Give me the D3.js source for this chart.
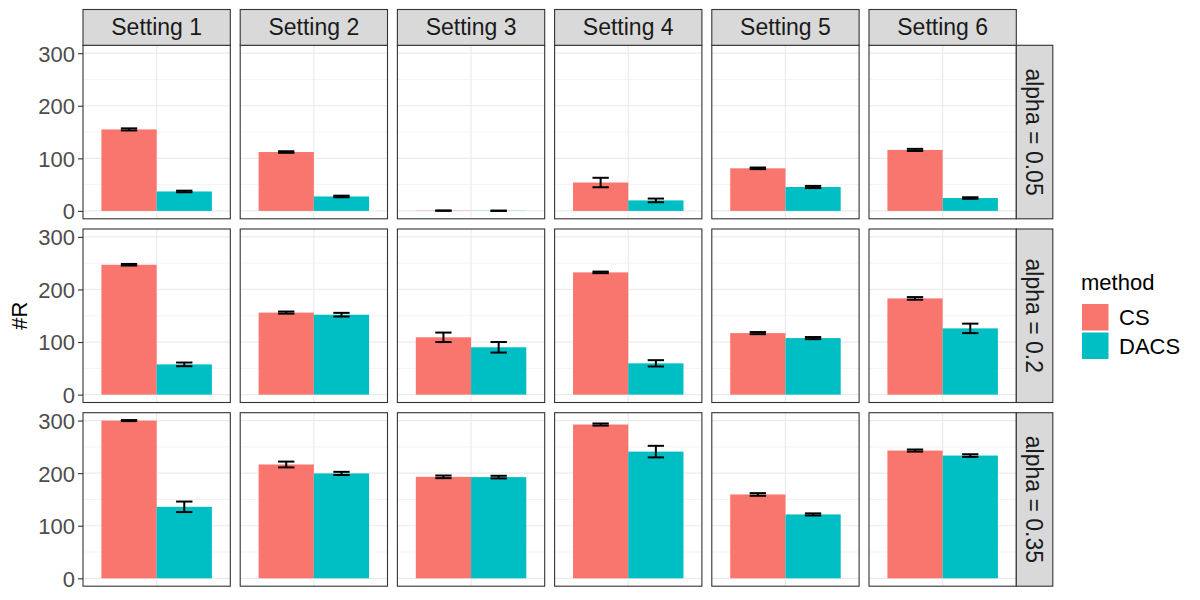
<!DOCTYPE html>
<html>
<head>
<meta charset="utf-8">
<script src="https://cdn.jsdelivr.net/npm/d3@7"></script>
<style>
  body { margin: 0; background: #fff; }
  svg { font-family: "Liberation Sans", Arial, sans-serif; }
</style>
</head>
<body>
<div id="chart"></div>
<script>
var settings = ["Setting 1", "Setting 2", "Setting 3", "Setting 4", "Setting 5", "Setting 6"];
var alphas = ["alpha = 0.05", "alpha = 0.2", "alpha = 0.35"];
var methods = ["CS", "DACS"];
var colors = ["#F8766D", "#00BFC4"];
var yTicks = [0, 100, 200, 300];
var yMinor = [50, 150, 250];

// one row per alpha, one entry per setting
var csMean = [
    [155, 112, 0.5, 54, 81, 116],
    [247, 156, 109, 232.5, 117, 183],
    [300, 216.5, 193, 292.5, 159.5, 243]
];
var csErr = [
    [2, 1.5, 0.3, 9, 1.5, 2],
    [1.5, 2, 9, 1.5, 2, 2.5],
    [1, 5.5, 2.5, 2, 2.5, 2]
];
var dacsMean = [
    [37, 27.5, 0.3, 20, 45.5, 24.5],
    [57.5, 152, 90, 59.5, 107.5, 126],
    [136, 199.5, 192.5, 241, 121.5, 233.5]
];
var dacsErr = [
    [1.5, 1.5, 0.3, 3.5, 2, 1.5],
    [3.5, 3.5, 10, 6, 2, 9],
    [10, 3, 2.5, 11, 2, 2.5]
];

var width = 1200, height = 600;
var panelLeft = 83, panelW = 147.3, colStep = 157.2;
var rowTops = [45.3, 229, 412.7], panelH = 173.5;
var stripTop = 9.5, stripH = 35.8;
var stripRW = 36.5;

var svg = d3.select("#chart").append("svg")
    .attr("width", width)
    .attr("height", height);

var xScale = d3.scaleLinear().domain([0.4, 1.6]).range([0, panelW]);
var yScale = d3.scaleLinear().domain([-15, 315]).range([panelH, 0]);
var barW = 0.45, errW = 0.133;

for (var r = 0; r < alphas.length; r++) {
    for (var c = 0; c < settings.length; c++) {
        var g = svg.append("g")
            .attr("transform", "translate(" + (panelLeft + c * colStep) + "," + rowTops[r] + ")");

        g.append("rect")
            .attr("width", panelW).attr("height", panelH)
            .attr("fill", "#fff");

        g.selectAll(".minor").data(yMinor).enter().append("line")
            .attr("x1", 0).attr("x2", panelW)
            .attr("y1", function(d){ return yScale(d); })
            .attr("y2", function(d){ return yScale(d); })
            .attr("stroke", "#ebebeb").attr("stroke-width", 0.6);
        g.selectAll(".major").data(yTicks).enter().append("line")
            .attr("x1", 0).attr("x2", panelW)
            .attr("y1", function(d){ return yScale(d); })
            .attr("y2", function(d){ return yScale(d); })
            .attr("stroke", "#ebebeb").attr("stroke-width", 1.2);
        g.append("line")
            .attr("x1", xScale(1)).attr("x2", xScale(1))
            .attr("y1", 0).attr("y2", panelH)
            .attr("stroke", "#ebebeb").attr("stroke-width", 1.2);

        var vals = [
            {m: 0, v: csMean[r][c], e: csErr[r][c], x: 1 - barW / 2},
            {m: 1, v: dacsMean[r][c], e: dacsErr[r][c], x: 1 + barW / 2}
        ];

        g.selectAll(".bar").data(vals).enter().append("rect")
            .attr("x", function(d){ return xScale(d.x - barW / 2); })
            .attr("width", xScale(barW) - xScale(0))
            .attr("y", function(d){ return yScale(d.v); })
            .attr("height", function(d){ return yScale(0) - yScale(d.v); })
            .attr("fill", function(d){ return colors[d.m]; });

        var eb = g.selectAll(".err").data(vals).enter().append("g")
            .attr("stroke", "#000").attr("stroke-width", 2).attr("fill", "none");
        eb.append("line")
            .attr("x1", function(d){ return xScale(d.x); })
            .attr("x2", function(d){ return xScale(d.x); })
            .attr("y1", function(d){ return yScale(d.v - d.e); })
            .attr("y2", function(d){ return yScale(d.v + d.e); });
        eb.append("line")
            .attr("x1", function(d){ return xScale(d.x - errW / 2); })
            .attr("x2", function(d){ return xScale(d.x + errW / 2); })
            .attr("y1", function(d){ return yScale(d.v - d.e); })
            .attr("y2", function(d){ return yScale(d.v - d.e); });
        eb.append("line")
            .attr("x1", function(d){ return xScale(d.x - errW / 2); })
            .attr("x2", function(d){ return xScale(d.x + errW / 2); })
            .attr("y1", function(d){ return yScale(d.v + d.e); })
            .attr("y2", function(d){ return yScale(d.v + d.e); });

        g.append("rect")
            .attr("width", panelW).attr("height", panelH)
            .attr("fill", "none").attr("stroke", "#333").attr("stroke-width", 1.1);

        if (c == 0) {
            var yAxis = d3.axisLeft(yScale).tickValues(yTicks).tickSize(5).tickPadding(3);
            var ag = g.append("g").call(yAxis);
            ag.select(".domain").remove();
            ag.selectAll("line").attr("stroke", "#333").attr("stroke-width", 1.1);
            ag.selectAll("text")
                .attr("fill", "#4d4d4d")
                .style("font-size", "22px")
                .attr("dy", "0.36em");
        }
    }

    // right strip
    var sx = panelLeft + (settings.length - 1) * colStep + panelW;
    var sg = svg.append("g").attr("transform", "translate(" + sx + "," + rowTops[r] + ")");
    sg.append("rect")
        .attr("width", stripRW).attr("height", panelH)
        .attr("fill", "#d9d9d9").attr("stroke", "#333").attr("stroke-width", 1.1);
    sg.append("text")
        .attr("transform", "translate(" + (stripRW / 2) + "," + (panelH / 2) + ") rotate(90)")
        .attr("text-anchor", "middle")
        .attr("dy", "0.35em")
        .attr("fill", "#1a1a1a")
        .style("font-size", "23px")
        .text(alphas[r]);
}

// top strips
for (var c = 0; c < settings.length; c++) {
    var tg = svg.append("g").attr("transform", "translate(" + (panelLeft + c * colStep) + "," + stripTop + ")");
    tg.append("rect")
        .attr("width", panelW).attr("height", stripH)
        .attr("fill", "#d9d9d9").attr("stroke", "#333").attr("stroke-width", 1.1);
    tg.append("text")
        .attr("x", panelW / 2).attr("y", stripH / 2)
        .attr("text-anchor", "middle")
        .attr("dy", "0.35em")
        .attr("fill", "#1a1a1a")
        .style("font-size", "23px")
        .text(settings[c]);
}

// y title
svg.append("text")
    .attr("transform", "translate(" + 27 + "," + ((rowTops[0] + rowTops[2] + panelH) / 2) + ") rotate(-90)")
    .attr("text-anchor", "middle")
    .style("font-size", "22px")
    .attr("fill", "#000")
    .text("#R");

// legend
var lg = svg.append("g").attr("transform", "translate(1081,270)");
lg.append("text")
    .attr("x", 0).attr("y", 20)
    .style("font-size", "22px")
    .text("method");
lg.selectAll(".key").data(methods).enter().append("rect")
    .attr("x", 1).attr("y", function(d, i){ return 34 + i * 28.5; })
    .attr("width", 26.5).attr("height", 26.5)
    .attr("fill", function(d, i){ return colors[i]; });
lg.selectAll(".lab").data(methods).enter().append("text")
    .attr("x", 38).attr("y", function(d, i){ return 34 + i * 28.5 + 13.5; })
    .attr("dy", "0.36em")
    .style("font-size", "22px")
    .text(function(d){ return d; });
</script>
</body>
</html>
